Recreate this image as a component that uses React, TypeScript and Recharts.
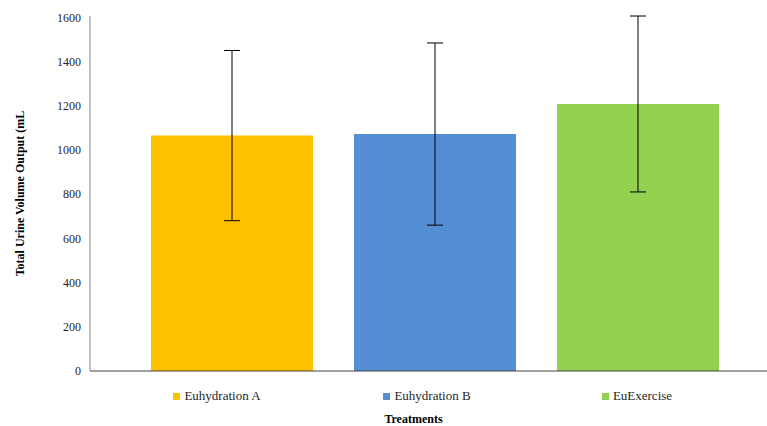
import React from 'react';
import { BarChart, Bar, XAxis, YAxis, ErrorBar, Legend, Label } from 'recharts';

const treatments = ['Euhydration A', 'Euhydration B', 'EuExercise'];
const meanOutput = [1065, 1072, 1208]; // mL
const sdOutput = [385, 412, 398];
const yTicks = [0, 200, 400, 600, 800, 1000, 1200, 1400, 1600];

const colors = ['#FFC000', '#558ED5', '#92D050'];
const font = 'Liberation Serif, DejaVu Serif, serif';

// one category, three series (like the Excel clustered column)
const row: Record<string, number | string> = { name: 'Treatments' };
treatments.forEach((t, i) => {
  row[`s${i}`] = meanOutput[i];
  row[`e${i}`] = sdOutput[i];
});
const data = [row];

const LegendRow = (props: any) => {
  const items = [...(props.payload || [])].sort(
    (a: any, b: any) => treatments.indexOf(a.value) - treatments.indexOf(b.value)
  );
  return (
    <div style={{ display: 'flex', width: 630, fontFamily: font, fontSize: 13, color: '#262626' }}>
      {items.map((it: any) => (
        <div key={it.value} style={{ flex: 1, display: 'flex', justifyContent: 'center', alignItems: 'center' }}>
          <span style={{ width: 7, height: 7, background: it.color, display: 'inline-block', marginRight: 4 }} />
          <span>{it.value}</span>
        </div>
      ))}
    </div>
  );
};

const App = () => (
  <div style={{ position: 'absolute', left: 0, top: 0, background: '#fff' }}>
    <BarChart width={767} height={426} data={data} margin={{ top: 16, right: 0, left: 0, bottom: 0 }} barGap={41}>
      <XAxis
        dataKey="name"
        tick={false}
        tickLine={false}
        height={55}
        padding={{ left: 12, right: 0 }}
        axisLine={{ stroke: '#404040' }}
      >
        <Label value="Treatments" position="insideBottom" offset={3} dx={-15} style={{ fontFamily: font, fontSize: 12, fontWeight: 'bold', fill: '#000' }} />
      </XAxis>
      <YAxis
        width={90}
        domain={[0, 1600]}
        ticks={yTicks}
        interval={0}
        tickLine={false}
        tickSize={0}
        tickMargin={9}
        axisLine={{ stroke: '#868686' }}
        tick={{ fontFamily: font, fontSize: 12, fill: '#262626' }}
      >
        <Label value="Total Urine Volume Output (mL" angle={-90} position="insideLeft" offset={20} style={{ fontFamily: font, fontSize: 12, fontWeight: 'bold', fill: '#000', textAnchor: 'middle' }} />
      </YAxis>
      <Legend
        layout="horizontal"
        verticalAlign="middle"
        content={<LegendRow />}
        wrapperStyle={{ top: 388, left: 112, width: 630 }}
      />
      {treatments.map((t, i) => (
        <Bar key={t} dataKey={`s${i}`} name={t} fill={colors[i]} barSize={162} isAnimationActive={false}>
          <ErrorBar dataKey={`e${i}`} width={8} stroke="#000" strokeWidth={1} direction="y" />
        </Bar>
      ))}
    </BarChart>
  </div>
);

export default App;
